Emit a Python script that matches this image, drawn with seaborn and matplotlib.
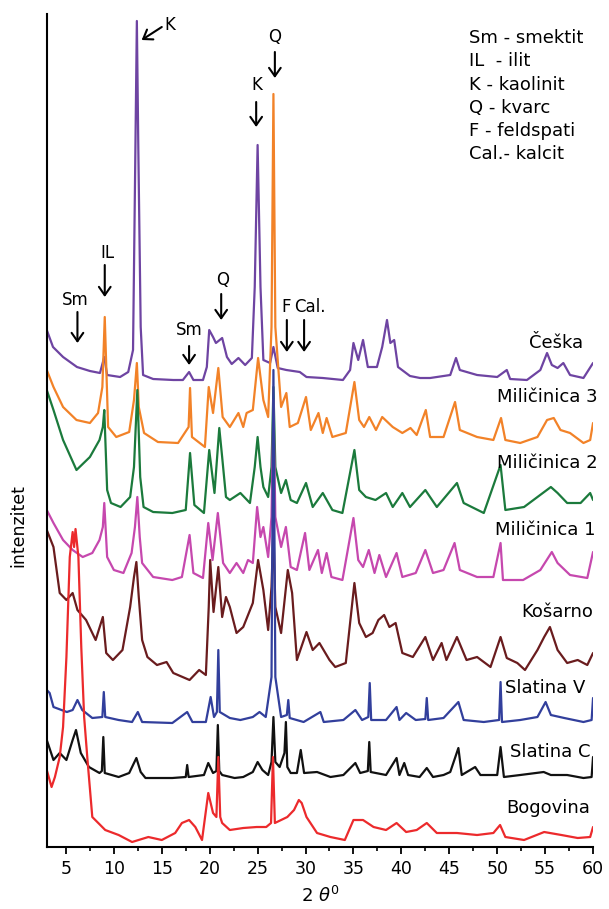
import numpy as np
import pandas as pd
import matplotlib
matplotlib.use('Agg')
import matplotlib.pyplot as plt
import seaborn as sns

# Uzorci (od gornjeg ka donjem)
samples = ['Češka', 'Miličinica 3', 'Miličinica 2', 'Miličinica 1',
           'Košarno', 'Slatina V', 'Slatina C', 'Bogovina']
colors = ['#6E44A2', '#F28228', '#1B7A3C', '#C648AE',
          '#6A1C1E', '#323F9C', '#111111', '#EC2A2C']

# 2theta / intenzitet (ocitano sa slike, proizvoljne jedinice)
ceska_x = [3.0, 3.65, 4.7, 6.15, 7.5, 8.55, 9.0, 9.3, 10.65, 11.5, 12.0, 12.25, 12.4, 12.55, 12.8, 13.05,
           14.1, 16.2, 17.2, 17.85, 18.3, 19.3, 19.7, 19.95, 20.35, 20.65, 21.3, 21.8, 22.3, 23.0, 23.7,
           24.4, 24.7, 25.0, 25.3, 25.6, 26.3, 26.65, 27.1, 28.0, 29.4, 30.1, 31.8, 33.9, 34.65, 35.0,
           35.5, 36.0, 36.5, 37.45, 38.0, 38.5, 38.85, 39.25, 39.65, 40.9, 41.95, 43.0, 45.1, 45.7,
           46.1, 47.9, 50.0, 51.0, 51.35, 53.1, 54.5, 55.2, 55.7, 56.3, 56.9, 57.6, 59.0, 60.0]
ceska_y = [517, 500, 490, 480, 476, 474, 490, 472, 470, 475, 497, 700, 826, 700, 520, 472,
           468, 467, 467, 475, 467, 467, 480, 517, 510, 504, 509, 490, 483, 489, 482,
           489, 560, 702, 560, 487, 484, 500, 479, 477, 475, 470, 469, 467, 477, 504,
           487, 507, 480, 480, 500, 527, 504, 507, 480, 471, 469, 469, 472, 489,
           477, 472, 470, 477, 468, 467, 477, 494, 482, 479, 484, 472, 469, 484]

mil3_x = [3.0, 3.7, 4.7, 6.1, 7.5, 8.35, 8.8, 9.05, 9.4, 10.25, 11.6, 12.1, 12.4, 12.6, 13.15, 14.6,
          16.7, 17.8, 17.95, 18.15, 19.5, 19.9, 20.35, 20.9, 21.35, 22.1, 23.0, 23.5, 23.85, 24.5, 25.05,
          25.6, 26.1, 26.45, 26.65, 26.85, 27.45, 28.0, 28.35, 29.2, 30.05, 30.55, 31.35, 31.8, 32.2,
          32.8, 34.2, 35.1, 35.6, 36.1, 36.65, 37.35, 38.0, 39.1, 40.1, 40.95, 41.6, 42.55, 43.0,
          44.4, 45.6, 46.1, 47.9, 49.6, 50.4, 50.85, 52.4, 54.2, 55.2, 55.9, 56.6, 57.6, 59.0, 59.7, 60.0]
mil3_y = [477, 460, 440, 427, 424, 434, 460, 530, 420, 410, 415, 447, 484, 440, 414, 405,
          404, 420, 459, 410, 400, 460, 434, 479, 430, 420, 434, 420, 434, 437, 489,
          447, 430, 520, 753, 520, 440, 454, 420, 424, 450, 417, 434, 414, 429,
          410, 414, 465, 427, 420, 430, 417, 430, 420, 414, 419, 412, 437, 410,
          410, 445, 417, 410, 407, 429, 407, 404, 410, 427, 429, 417, 414, 404, 407, 424]

mil2_x = [3.0, 3.7, 4.7, 6.1, 7.5, 8.5, 8.85, 9.0, 9.3, 9.7, 10.7, 11.7, 12.1, 12.45, 12.75, 13.1,
          14.1, 16.1, 17.5, 17.95, 18.4, 19.4, 19.95, 20.5, 21.0, 21.3, 21.7, 22.1, 23.2, 24.2, 24.7,
          25.0, 25.3, 25.6, 26.1, 26.45, 26.65, 26.85, 27.45, 27.95, 28.45, 29.1, 30.05, 30.75, 31.8,
          32.8, 33.85, 35.1, 35.6, 36.3, 37.3, 38.4, 39.1, 40.1, 40.9, 42.5, 43.7, 45.8, 46.5, 48.6,
          50.35, 50.85, 52.8, 54.2, 55.6, 56.3, 57.3, 58.7, 59.7, 60.0]
mil2_y = [457, 437, 407, 377, 390, 407, 420, 437, 357, 344, 340, 350, 380, 457, 370, 340,
          335, 334, 337, 394, 342, 334, 397, 354, 419, 390, 350, 347, 354, 344, 380,
          410, 380, 360, 350, 380, 460, 380, 354, 367, 347, 344, 364, 340, 354,
          337, 334, 397, 357, 350, 347, 354, 340, 354, 340, 357, 340, 364, 344, 334,
          382, 337, 340, 350, 360, 354, 344, 344, 354, 347]

mil1_x = [3.0, 3.7, 4.7, 5.7, 6.75, 7.75, 8.5, 8.85, 9.0, 9.3, 10.0, 11.0, 11.85, 12.2, 12.45, 12.7,
          12.95, 14.1, 16.1, 17.1, 17.9, 18.3, 19.3, 19.85, 20.3, 20.85, 21.4, 22.1, 22.8, 23.5, 24.0,
          24.5, 24.95, 25.3, 25.6, 26.1, 26.45, 26.65, 26.85, 27.45, 27.95, 28.45, 29.1, 29.95, 30.4,
          31.3, 31.7, 32.2, 32.7, 33.85, 35.0, 35.5, 36.0, 36.6, 37.2, 37.7, 38.4, 39.5, 40.1, 41.5,
          42.5, 43.3, 44.4, 45.55, 46.1, 47.9, 49.6, 50.35, 50.6, 52.7, 54.5, 55.7, 56.3, 57.6, 59.4, 60.0]
mil1_y = [337, 324, 307, 297, 290, 294, 307, 320, 344, 290, 277, 274, 294, 320, 350, 310,
          284, 270, 267, 270, 312, 274, 269, 324, 287, 334, 284, 274, 284, 274, 287,
          284, 340, 310, 320, 290, 330, 447, 330, 300, 320, 280, 277, 314, 277,
          297, 274, 294, 270, 267, 329, 287, 280, 297, 274, 292, 270, 294, 270, 274,
          297, 274, 277, 304, 277, 270, 270, 304, 267, 267, 277, 295, 284, 272, 269, 295]

kosarno_x = [3.0, 3.7, 4.35, 5.05, 5.7, 6.2, 7.1, 8.1, 8.85, 9.2, 9.9, 10.9, 11.7, 12.1, 12.35, 12.6,
             12.95, 13.5, 14.5, 15.5, 16.2, 17.9, 18.9, 19.6, 19.9, 20.05, 20.4, 20.9, 21.3, 21.7, 22.1,
             22.8, 23.5, 24.5, 25.05, 25.6, 26.1, 26.45, 26.65, 26.85, 27.45, 28.15, 28.6, 29.1, 30.1,
             30.75, 31.45, 32.5, 33.1, 34.2, 35.1, 35.6, 36.3, 37.0, 37.6, 38.2, 38.75, 39.4, 40.1,
             41.2, 42.5, 43.3, 44.2, 44.7, 45.8, 46.8, 47.9, 49.3, 50.35, 51.0, 52.1, 52.9, 54.2, 54.9,
             55.5, 56.3, 57.3, 58.4, 59.4, 60.0]
kosarno_y = [317, 300, 254, 247, 254, 237, 227, 207, 230, 194, 187, 197, 240, 270, 285, 250,
             207, 190, 182, 185, 174, 167, 177, 172, 240, 287, 235, 280, 230, 250, 240,
             214, 220, 244, 287, 257, 217, 260, 320, 240, 214, 277, 254, 187, 215,
             197, 204, 187, 180, 184, 264, 224, 210, 214, 227, 232, 220, 224, 194,
             190, 210, 187, 204, 187, 210, 187, 190, 180, 210, 189, 184, 177, 197, 210,
             220, 197, 184, 187, 182, 194]

slatv_x = [3.0, 3.3, 3.7, 5.1, 5.7, 6.2, 6.7, 7.75, 8.8, 8.95, 9.1, 10.5, 11.9, 12.5, 12.95, 16.1,
           17.65, 18.2, 19.6, 20.1, 20.45, 20.75, 20.9, 21.05, 22.1, 23.2, 24.5, 25.2, 25.85, 26.45,
           26.65, 26.85, 27.45, 28.05, 28.2, 28.35, 29.8, 31.55, 31.9, 33.95, 35.2, 35.9, 36.55, 36.7,
           36.85, 38.4, 39.5, 39.8, 40.5, 41.5, 42.5, 42.65, 42.8, 44.4, 45.95, 46.5, 48.6, 50.2,
           50.35, 50.5, 52.4, 54.2, 55.05, 55.6, 57.0, 59.0, 59.85, 60.0]
slatv_y = [157, 154, 140, 135, 137, 147, 137, 129, 130, 155, 130, 127, 125, 135, 125, 124,
           135, 125, 125, 150, 130, 135, 197, 135, 129, 127, 130, 135, 130, 170,
           477, 170, 130, 132, 147, 129, 125, 135, 125, 127, 137, 127, 130, 164,
           127, 127, 140, 127, 134, 127, 128, 149, 127, 129, 145, 127, 125, 127,
           165, 125, 127, 130, 145, 132, 129, 125, 127, 149]

slatc_x = [3.0, 3.7, 4.35, 5.05, 5.7, 6.05, 6.55, 7.4, 8.5, 8.75, 8.9, 9.05, 10.5, 11.6, 12.35, 12.8,
           13.3, 16.1, 17.5, 17.65, 17.8, 19.4, 19.85, 20.35, 20.7, 20.85, 21.0, 21.3, 22.6, 23.5,
           24.5, 25.0, 25.5, 26.1, 26.45, 26.65, 26.85, 27.3, 27.8, 27.95, 28.1, 28.45, 29.1, 29.5,
           29.85, 31.2, 32.6, 33.95, 35.2, 35.7, 36.5, 36.65, 36.8, 38.4, 39.5, 39.8, 40.3, 40.7,
           41.9, 42.65, 43.3, 44.4, 45.1, 45.95, 46.3, 47.7, 48.25, 50.0, 50.35, 50.7, 52.4, 54.85,
           55.6, 57.3, 59.0, 59.85, 60.0]
slatc_y = [107, 87, 94, 87, 107, 117, 94, 80, 74, 76, 110, 74, 70, 74, 89, 75,
           69, 69, 70, 82, 70, 72, 84, 74, 76, 122, 76, 72, 69, 70,
           75, 85, 77, 72, 85, 130, 85, 80, 94, 125, 80, 74, 74, 97,
           74, 75, 70, 72, 84, 74, 76, 105, 75, 72, 89, 72, 84, 72,
           70, 79, 70, 72, 75, 99, 72, 80, 72, 72, 100, 70, 72, 75,
           72, 72, 69, 70, 90]

bogovina_x = [3.0, 3.5, 3.85, 4.35, 4.7, 5.05, 5.4, 5.7, 5.85, 6.0, 6.3, 6.6, 6.9, 7.25, 7.75, 9.1,
              10.5, 11.9, 13.6, 15.0, 16.4, 17.1, 17.85, 18.5, 19.2, 19.85, 20.35, 20.7, 20.9, 21.1,
              21.3, 22.1, 23.5, 24.9, 25.9, 26.4, 26.6, 26.8, 28.1, 28.8, 29.3, 29.6, 30.1, 31.2,
              32.6, 34.1, 35.0, 36.0, 37.1, 38.4, 39.5, 40.5, 41.6, 42.65, 43.7, 45.8, 47.9, 49.6,
              50.3, 50.85, 52.8, 54.9, 56.7, 58.4, 59.7, 60.0]
bogovina_y = [77, 60, 70, 90, 120, 190, 290, 315, 300, 318, 290, 200, 130, 87, 30, 17,
              12, 5, 10, 7, 14, 24, 27, 20, 7, 54, 34, 30, 90, 30,
              24, 17, 19, 20, 20, 24, 90, 24, 30, 37, 47, 44, 30, 14,
              10, 7, 27, 27, 20, 17, 24, 15, 17, 24, 14, 14, 12, 14,
              22, 10, 7, 15, 12, 9, 10, 20]

series_x = [ceska_x, mil3_x, mil2_x, mil1_x, kosarno_x, slatv_x, slatc_x, bogovina_x]
series_y = [ceska_y, mil3_y, mil2_y, mil1_y, kosarno_y, slatv_y, slatc_y, bogovina_y]

frames = []
for name, xs, ys in zip(samples, series_x, series_y):
    frames.append(pd.DataFrame({'2theta': xs, 'intenzitet': ys, 'uzorak': name}))
df = pd.concat(frames, ignore_index=True)

# polozaj natpisa uzoraka (desna ivica)
label_x = [59.0, 60.5, 60.5, 60.3, 60.0, 59.2, 59.7, 59.7]
label_y = [504, 450, 384, 317, 235, 159, 95, 39]

sns.set_style('ticks')
plt.rcParams['font.family'] = ['DejaVu Sans']
plt.rcParams['text.color'] = 'black'
plt.rcParams['axes.labelcolor'] = 'black'
plt.rcParams['xtick.color'] = 'black'

fig = plt.figure(figsize=(6.09, 9.09), dpi=100)
ax = fig.add_axes([0.0768, 0.0682, 0.897, 0.9164])

sns.lineplot(data=df, x='2theta', y='intenzitet', hue='uzorak', hue_order=samples,
             palette=colors, estimator=None, sort=False, legend=False, lw=1.6, ax=ax)

ax.set_xlim(3, 60)
ax.set_ylim(0, 833)
ax.set_xticks(range(5, 61, 5))
ax.set_xticks(np.arange(7.5, 60, 5), minor=True)
ax.set_yticks([])
ax.tick_params(axis='x', which='major', direction='out', length=5, width=1.3, labelsize=12.5, pad=4,
               colors='black')
ax.tick_params(axis='x', which='minor', direction='out', length=3, width=1.2, colors='black')
for s in ['top', 'right']:
    ax.spines[s].set_visible(False)
for s in ['left', 'bottom']:
    ax.spines[s].set_linewidth(1.5)
    ax.spines[s].set_color('black')
ax.set_xlabel(r'2 $\theta^0$', fontsize=13, labelpad=6)
ax.set_ylabel('')
fig.text(18 / 609, 1 - 526 / 909, 'intenzitet', rotation=90, ha='center', va='center', fontsize=12.5)

for name, lx, ly in zip(samples, label_x, label_y):
    ax.text(lx, ly, name, ha='right', va='center', fontsize=13, clip_on=False)

# legenda minerala
legend_lines = ['Sm - smektit', 'IL  - ilit', 'K - kaolinit', 'Q - kvarc', 'F - feldspati', 'Cal.- kalcit']
for i, line in enumerate(legend_lines):
    ax.text(47.1, 809 - i * 23.3, line, ha='left', va='center', fontsize=13)

# strelice za pikove
arrow_kw = dict(arrowstyle='->,head_length=0.4,head_width=0.28', color='black', lw=1.5,
                shrinkA=0, shrinkB=0, mutation_scale=15)
arrows = [  # tekst, x teksta, y teksta, rep strelice, vrh strelice
    ('Q', 26.8, 810, (26.8, 795), (26.8, 769)),
    ('K', 24.9, 762, (24.85, 745), (24.85, 720)),
    ('IL', 9.3, 594, (9.05, 582), (9.05, 550)),
    ('Sm', 6.0, 547, (6.2, 535), (6.2, 504)),
    ('Q', 21.3, 567, (21.2, 553), (21.2, 527)),
    ('Sm', 17.85, 517, (17.85, 501), (17.85, 482)),
    ('F', 28.0, 540, (28.05, 527), (28.05, 495)),
]
for txt, tx, ty, tail, tip in arrows:
    ax.text(tx, ty, txt, ha='center', va='center', fontsize=12)
    ax.annotate('', xy=tip, xytext=tail, arrowprops=arrow_kw)

ax.text(28.85, 540, 'Cal.', ha='left', va='center', fontsize=12)
ax.annotate('', xy=(29.85, 495), xytext=(29.85, 527), arrowprops=arrow_kw)

ax.text(15.3, 822, 'K', ha='left', va='center', fontsize=12)
ax.annotate('', xy=(12.9, 807), xytext=(15.0, 820), arrowprops=arrow_kw)

fig.savefig('out.png', dpi=100)
